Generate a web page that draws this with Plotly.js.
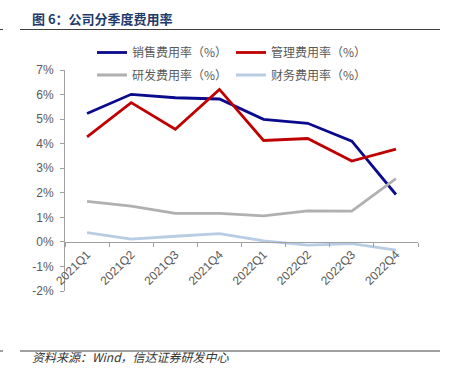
<!DOCTYPE html>
<html>
<head>
<meta charset="utf-8">
<script src="https://cdn.plot.ly/plotly-3.0.1.min.js"></script>
<style>html,body{margin:0;padding:0;background:#fff;}#chart{width:449px;height:381px;}</style>
</head>
<body>
<div id="chart"></div>
<script>
// Data
const quarters = ["2021Q1","2021Q2","2021Q3","2021Q4","2022Q1","2022Q2","2022Q3","2022Q4"];
const salesRate = [5.23, 6.01, 5.87, 5.82, 4.99, 4.83, 4.10, 1.93];
const adminRate = [4.28, 5.67, 4.59, 6.21, 4.13, 4.21, 3.29, 3.78];
const rdRate = [1.65, 1.46, 1.16, 1.16, 1.06, 1.26, 1.25, 2.58];
const financeRate = [0.38, 0.11, 0.23, 0.34, 0.04, -0.13, -0.07, -0.34];
const seriesNames = ["销售费用率（%）","管理费用率（%）","研发费用率（%）","财务费用率（%）"];
const yTickVals = [-2,-1,0,1,2,3,4,5,6,7];
const yTickText = ["-2%","-1%","0%","1%","2%","3%","4%","5%","6%","7%"];
const titleText = "图 6：公司分季度费用率";
const sourceText = "资料来源：Wind，信达证券研发中心";

// Pixel helpers for paper coordinates
const L = 65, R = 418, T = 70, B = 291;
const px = x => (x - L) / (R - L);
const py = y => (B - y) / (B - T);

const colors = ["#0A0A8C","#C00000","#B0B0B0","#B8CCE4"];
const allData = [salesRate, adminRate, rdRate, financeRate];
const legends = ["legend","legend","legend2","legend2"];
const traces = allData.map((d,i)=>({
  x: quarters, y: d, type:"scatter", mode:"lines", name: seriesNames[i],
  line:{color:colors[i], width:2.8}, legend: legends[i], hoverinfo:"skip"
}));

const gray = "#595959";
const legendCommon = {
  orientation:"h", xanchor:"left", yanchor:"middle",
  entrywidth:94, entrywidthmode:"pixels",
  font:{family:"Noto Sans CJK SC", size:12, color:gray},
  bgcolor:"rgba(0,0,0,0)", borderwidth:0, itemclick:false
};

const layout = {
  width:449, height:381,
  margin:{l:L, r:449-R, t:T, b:381-B, pad:0},
  paper_bgcolor:"#fff", plot_bgcolor:"rgba(0,0,0,0)",
  showlegend:true,
  legend: Object.assign({}, legendCommon, {x:px(92), y:py(52.5)}),
  legend2: Object.assign({}, legendCommon, {x:px(92), y:py(75)}),
  xaxis:{
    type:"category", range:[-0.5,7.5], anchor:"free", position:2/9,
    showline:true, linecolor:"#A0A0A0", linewidth:1,
    ticks:"outside", tickson:"boundaries", ticklen:4, tickcolor:"#A0A0A0",
    tickangle:-45, showgrid:false, zeroline:false,
    tickfont:{family:"Liberation Sans, Arial", size:12, color:gray}
  },
  yaxis:{
    range:[-2,7], tickvals:yTickVals, ticktext:yTickText,
    showline:true, linecolor:"#A0A0A0", linewidth:1,
    ticks:"outside", ticklen:4, tickcolor:"#A0A0A0",
    showgrid:false, zeroline:false, ticklabelstandoff:4,
    tickfont:{family:"Liberation Sans, Arial", size:12, color:gray}
  },
  shapes:[
    {type:"line", xref:"paper", yref:"paper", x0:px(20), x1:px(440), y0:py(29.5), y1:py(29.5), line:{color:"#404040", width:1}},
    {type:"line", xref:"paper", yref:"paper", x0:px(0), x1:px(3), y0:py(29.5), y1:py(29.5), line:{color:"#404040", width:1}},
    {type:"line", xref:"paper", yref:"paper", x0:px(20), x1:px(440), y0:py(351), y1:py(351), line:{color:"#404040", width:1}},
    {type:"line", xref:"paper", yref:"paper", x0:px(0), x1:px(3), y0:py(351), y1:py(351), line:{color:"#404040", width:1}}
  ],
  annotations:[
    {text:"<b>"+titleText+"</b>", xref:"paper", yref:"paper", x:px(30), y:py(19), xanchor:"left", yanchor:"middle", showarrow:false,
     font:{family:"Noto Sans CJK SC", size:13, color:"#1F3A6B"}},
    {text:"<i>"+sourceText+"</i>", xref:"paper", yref:"paper", x:px(30), y:py(356), xanchor:"left", yanchor:"middle", showarrow:false,
     font:{family:"Noto Sans CJK SC", size:12, color:"#333333"}}
  ]
};

Plotly.newPlot("chart", traces, layout, {staticPlot:true, displayModeBar:false});
</script>
</body>
</html>
